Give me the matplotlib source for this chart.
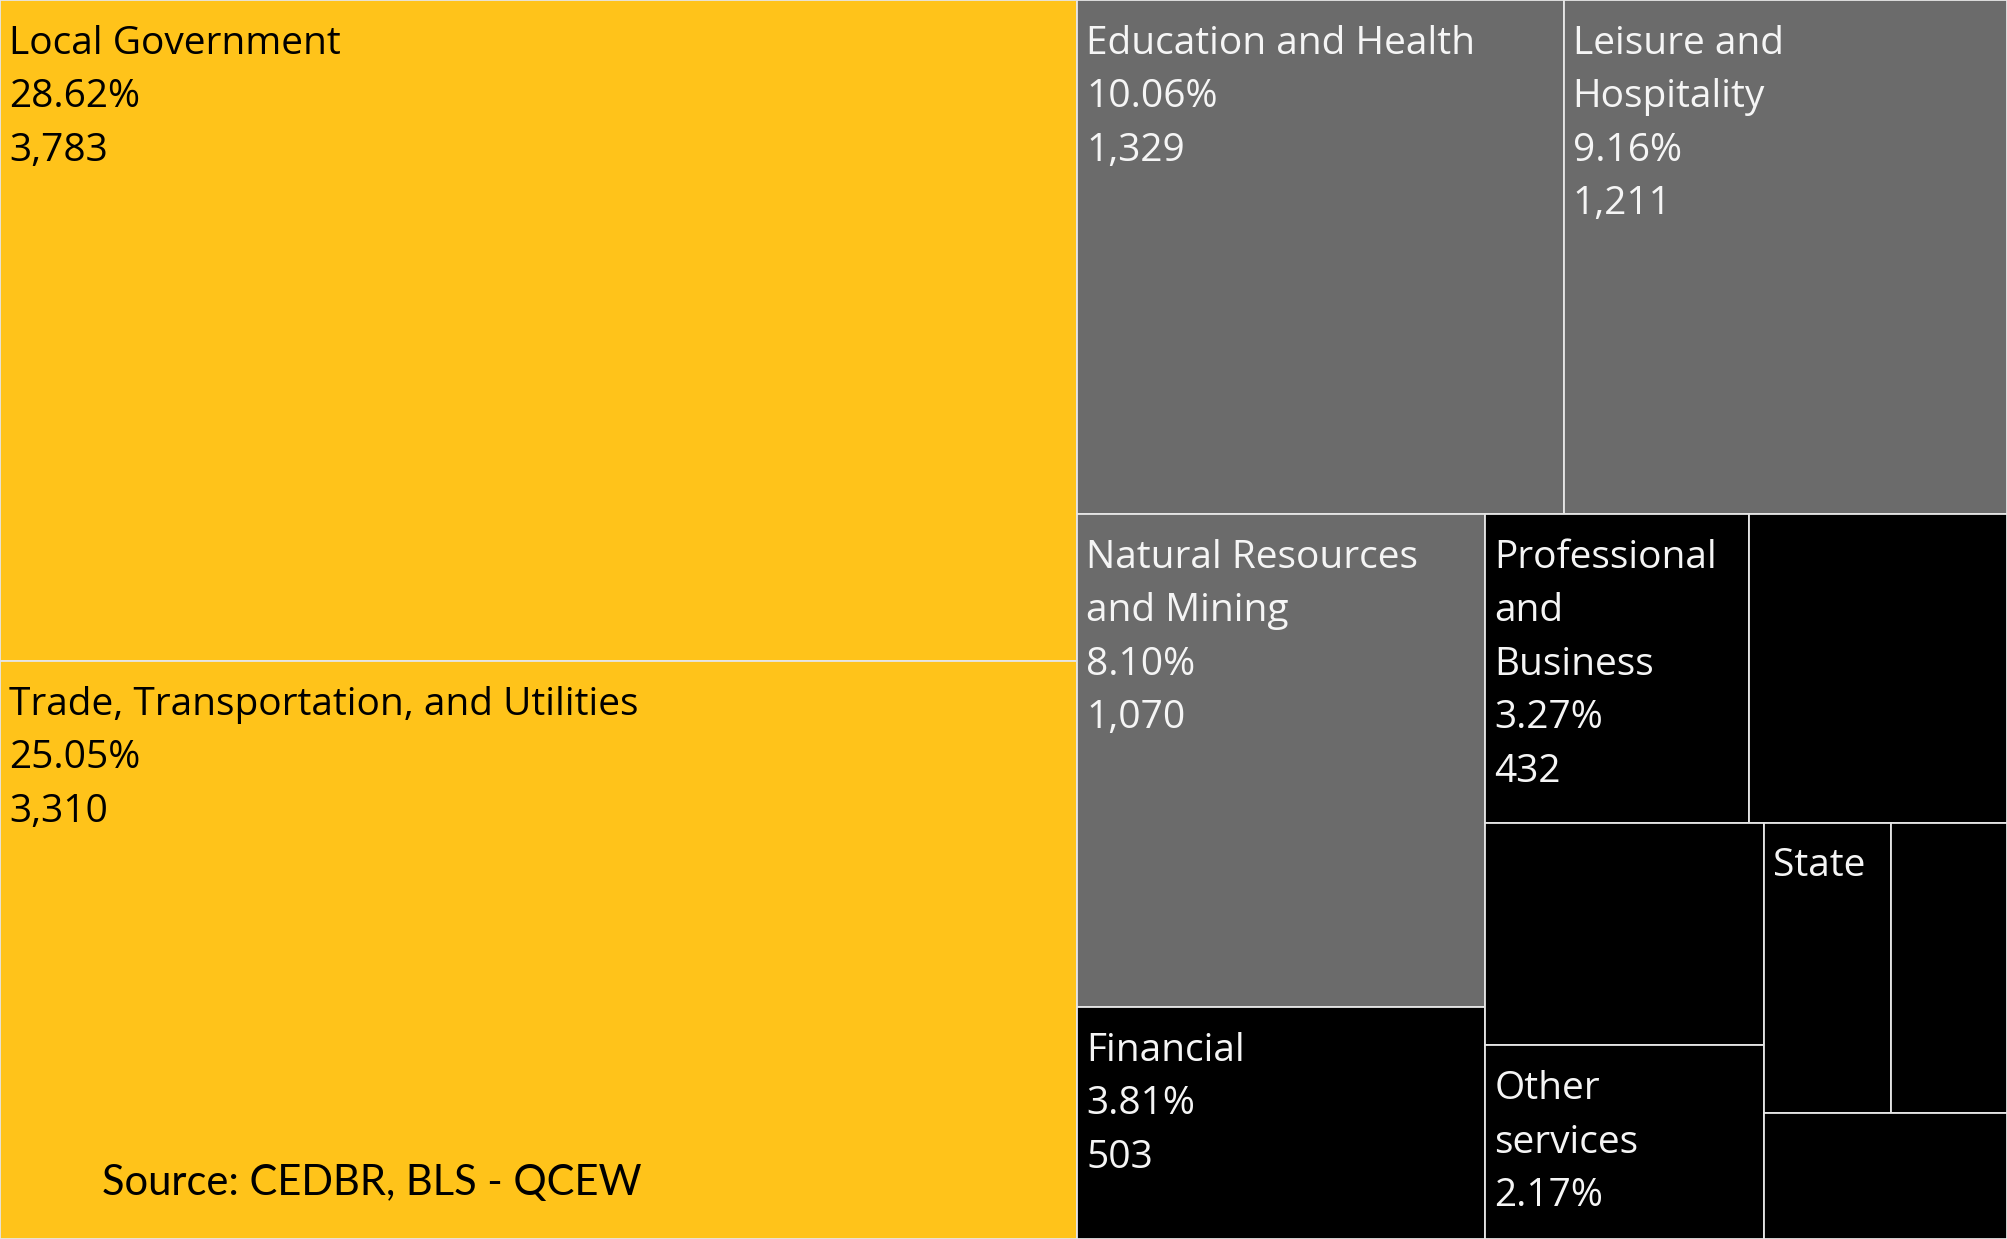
import matplotlib
matplotlib.use("Agg")
from matplotlib import pyplot as plt
from matplotlib.patches import Rectangle

# employment by sector (sorted largest first, the order the treemap is built in)
sectors = ["Local Government", "Trade, Transportation, and Utilities",
           "Education and Health", "Leisure and\nHospitality",
           "Natural Resources\nand Mining", "Financial",
           "Professional\nand\nBusiness", "Construction", "Manufacturing",
           "Other\nservices", "State", "Federal Government", "Information"]
employment = [3783, 3310, 1329, 1211, 1070, 503, 432, 424, 330, 287, 196, 178, 163]
# how many label lines Tableau had room to show in each box
shown_lines = [3, 3, 3, 4, 4, 3, 5, 0, 0, 3, 1, 0, 0]
# squarified strips: number of boxes laid in each strip
strips = [2, 2, 2, 2, 2, 2, 1]

YELLOW = "#FFC31A"
GREY = "#6B6B6B"
BLACK = "#000000"


def tier_color(share):
    if share > 0.2:
        return YELLOW
    if share > 0.05:
        return GREY
    return BLACK


def squarify_strips(values, x, y, w, h, counts):
    scale = w * h / sum(values)
    rects = []
    i = 0
    for n in counts:
        group = values[i:i + n]
        area = sum(group) * scale
        if w >= h:
            cw = area / h
            yy = y
            for v in group:
                rh = v * scale / cw
                rects.append((x, yy, cw, rh))
                yy += rh
            x += cw
            w -= cw
        else:
            rh = area / w
            xx = x
            for v in group:
                rw = v * scale / rh
                rects.append((xx, y, rw, rh))
                xx += rw
            y += rh
            h -= rh
        i += n
    return rects


W, H = 2007, 1239
fig = plt.figure(figsize=(20.07, 12.39), dpi=100)
ax = fig.add_axes([0, 0, 1, 1])
ax.set_xlim(0, W)
ax.set_ylim(H, 0)
ax.axis("off")

total = sum(employment)
rects = squarify_strips(employment, 0, 0, W, H, strips)

for name, val, n, (x, y, w, h) in zip(sectors, employment, shown_lines, rects):
    share = val / total
    col = tier_color(share)
    ax.add_patch(Rectangle((x, y), w, h, facecolor=col, edgecolor="#E6E6E6", linewidth=1.3))
    lines = name.split("\n") + ["{:.2f}%".format(share * 100), "{:,}".format(val)]
    tcol = "black" if col == YELLOW else "#F5F5F5"
    for k, line in enumerate(lines[:n]):
        ax.annotate(line, (x, y), xytext=(6.5, -31.5 - 38.5 * k), textcoords="offset points",
                    ha="left", va="center", fontsize=28, color=tcol, family="Open Sans")

fig.text(0.0508, 0.0448, "Source: CEDBR, BLS - QCEW", fontsize=30, family="Lato",
         ha="left", va="center", color="black")

plt.savefig("out.png", dpi=100)
